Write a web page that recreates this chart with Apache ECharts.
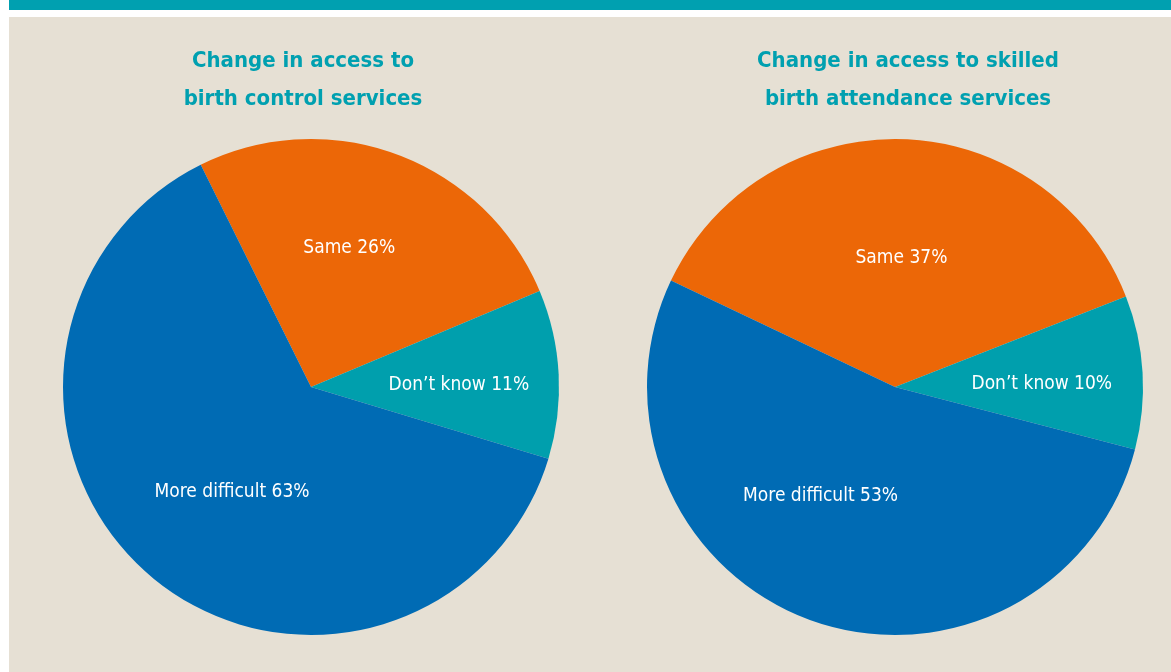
<!DOCTYPE html>
<html>
<head>
<meta charset="utf-8">
<script src="https://cdn.jsdelivr.net/npm/echarts@6/dist/echarts.min.js"></script>
<style>
  html, body { margin: 0; padding: 0; background: #fff; }
  #chart { width: 1171px; height: 672px; }
</style>
</head>
<body>
<div id="chart"></div>
<script>
var categories = ['Same', 'Don\u2019t know', 'More difficult'];
var birthControl = [26, 11, 63];
var skilledBirth = [37, 10, 53];
var titles = ['Change in access to\nbirth control services', 'Change in access to skilled\nbirth attendance services'];

var colors = ['#ec6707', '#009fad', '#006bb4'];
var font = '"DejaVu Sans Condensed", "Roboto", sans-serif';

// nudges for label placement [series][item]
var nudges = [
	[[-6, -20], [21, 5], [3, 8]],
	[[2, -2], [20, 5], [-31, -10]]
];

function toData(values) {
	return categories.map(function(name, i) {
		return { name: name, value: values[i] };
	});
}

function pie(values, cx, start, idx) {
	return {
		type: 'pie',
		center: [cx, 387],
		radius: 248,
		startAngle: start,
		clockwise: true,
		silent: true,
		color: colors,
		itemStyle: { borderWidth: 0 },
		label: {
			position: 'inside',
			formatter: '{b} {c}%',
			color: '#fff',
			fontFamily: font,
			fontSize: 19
		},
		labelLine: { show: false },
		labelLayout: function(params) {
			var n = nudges[idx][params.dataIndex];
			return { dx: n[0], dy: n[1] };
		},
		data: toData(values)
	};
}

var myChart = echarts.init(document.getElementById('chart'));
var option = {
	animation: false,
	backgroundColor: '#fff',
	graphic: [
		{ type: 'rect', shape: { x: 9, y: 0, width: 1162, height: 10 }, style: { fill: '#00a0b0' }, z: -10 },
		{ type: 'rect', shape: { x: 9, y: 17, width: 1162, height: 655 }, style: { fill: '#e6e0d4' }, z: -10 }
	],
	title: [
		{ text: titles[0], left: 298, top: 37, textAlign: 'center' },
		{ text: titles[1], left: 903, top: 37, textAlign: 'center' }
	].map(function(t) {
		t.textStyle = { color: '#00a0b0', fontFamily: font, fontWeight: 'bold', fontSize: 22, lineHeight: 38 };
		return t;
	}),
	series: [
		pie(birthControl, 311, 116.4, 0),
		pie(skilledBirth, 895, 154.6, 1)
	]
};
myChart.setOption(option);
window.addEventListener('resize', function() {
	myChart.resize();
});
</script>
</body>
</html>
